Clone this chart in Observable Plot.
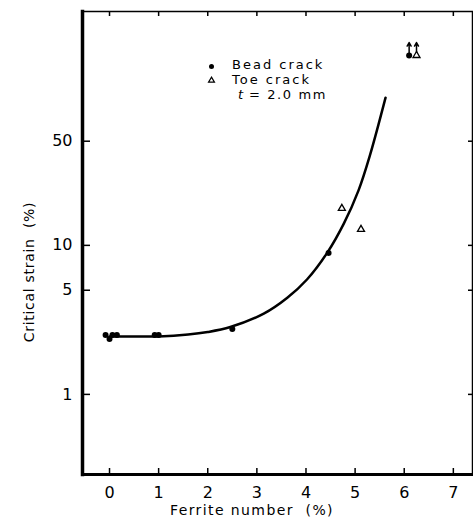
<!DOCTYPE html>
<html>
<head>
<meta charset="utf-8">
<script src="https://cdn.jsdelivr.net/npm/d3@7"></script>
<script src="https://cdn.jsdelivr.net/npm/@observablehq/plot@0.6"></script>
<style>
  html, body { margin: 0; padding: 0; background: #fff; }
  #chart svg { display: block; }
</style>
</head>
<body>
<div id="chart"></div>
<script>
// Data
const beadX = [-0.08, 0.0, 0.06, 0.15, 0.92, 1.0, 2.5, 4.46];
const beadY = [2.5, 2.35, 2.5, 2.5, 2.5, 2.5, 2.75, 8.9];
const toeX = [4.73, 5.12];
const toeY = [17.7, 12.8];
// points off scale (arrows upward)
const offX = [6.1, 6.25];
const offY = [188, 188];
const offKind = ["bead", "toe"];
// fitted curve
const curveX = [0, 1, 1.6, 2.0, 2.46, 3.14, 3.62, 4.02, 4.43, 4.77, 5.07, 5.3, 5.62];
const curveY = [2.45, 2.45, 2.52, 2.62, 2.83, 3.48, 4.45, 5.9, 8.9, 14.0, 23.4, 40, 98];
// ticks
const xTicks = [0, 1, 2, 3, 4, 5, 6, 7];
const yTicks = [1, 5, 10, 50];
const xDomain = [-0.55, 7.39];
const yDomain = [0.29, 371];
// texts
const xLabel = "Ferrite number  (%)";
const yLabel = "Critical strain  (%)";
const legendLabels = ["Bead crack", "Toe crack"];
const legendNote = "= 2.0 mm";

const bead = beadX.map((x, i) => ({x, y: beadY[i]}));
const toe = toeX.map((x, i) => ({x, y: toeY[i]}));
const off = offX.map((x, i) => ({x, y: offY[i], kind: offKind[i]}));
const curve = curveX.map((x, i) => ({x, y: curveY[i]}));

const W = 473, H = 526;
const mt = 11, mb = 52, ml = 82, mr = 1;
const innerH = H - mt - mb;
const innerW = W - ml - mr;
const font = "DejaVu Sans, sans-serif";

const chart = Plot.plot({
  width: W,
  height: H,
  marginTop: mt,
  marginBottom: mb,
  marginLeft: ml,
  marginRight: mr,
  style: {fontFamily: font, background: "#fff", color: "#000"},
  x: {domain: xDomain, axis: null},
  y: {type: "log", domain: yDomain, axis: null},
  marks: [
    // frame
    Plot.frame({stroke: "#000", strokeWidth: 1.5}),
    Plot.frame({anchor: "left", stroke: "#000", strokeWidth: 3.5}),
    Plot.frame({anchor: "bottom", stroke: "#000", strokeWidth: 3}),
    // inward ticks
    Plot.tickX(xTicks, {x: d => d, insetTop: innerH - 6, stroke: "#000", strokeWidth: 1.5}),
    Plot.tickX(xTicks, {x: d => d, insetBottom: innerH - 5, stroke: "#000", strokeWidth: 1.5}),
    Plot.tickY(yTicks, {y: d => d, insetRight: innerW - 8, stroke: "#000", strokeWidth: 1.5}),
    Plot.tickY(yTicks, {y: d => d, insetLeft: innerW - 4, stroke: "#000", strokeWidth: 1.5}),
    // tick labels
    Plot.text(xTicks, {x: d => d, y: yDomain[0], text: d => String(d), dy: 18, fontSize: 16, fill: "#000"}),
    Plot.text(yTicks, {x: xDomain[0], y: d => d, text: d => String(d), dx: -10, textAnchor: "end", fontSize: 16, fill: "#000"}),
    // curve
    Plot.line(curve, {x: "x", y: "y", curve: "catmull-rom", stroke: "#000", strokeWidth: 2.5}),
    // data points
    Plot.dot(bead, {x: "x", y: "y", r: 3, fill: "#000"}),
    Plot.dot(toe, {x: "x", y: "y", symbol: "triangle", r: 2.6, stroke: "#000", strokeWidth: 1.3, fill: "#fff"}),
    Plot.arrow(off, {x: "x", y1: "y", y2: d => d.y * 1.22, stroke: "#000", strokeWidth: 1.5, headLength: 4, insetStart: 2}),
    Plot.dot(off.filter(d => d.kind === "bead"), {x: "x", y: "y", r: 3, fill: "#000"}),
    Plot.dot(off.filter(d => d.kind === "toe"), {x: "x", y: "y", symbol: "triangle", r: 2.6, stroke: "#000", strokeWidth: 1.3, fill: "#fff"}),
    // legend symbols
    Plot.dot([0], {frameAnchor: "top-left", dx: 211 - ml, dy: 66 - mt, r: 2.5, fill: "#000"}),
    Plot.dot([0], {frameAnchor: "top-left", dx: 211 - ml, dy: 80 - mt, symbol: "triangle", r: 2.2, stroke: "#000", strokeWidth: 1.2, fill: "#fff"})
  ]
});

// text labels (legend and axis titles)
const svg = d3.select(chart);
const addText = (txt, x, y, opts = {}) => {
  const t = svg.append("text")
    .attr("x", x).attr("y", y)
    .attr("dominant-baseline", "middle")
    .attr("text-anchor", opts.anchor || "start")
    .attr("font-family", font)
    .attr("font-size", opts.size || 14)
    .attr("letter-spacing", opts.ls || 0)
    .attr("fill", "#000")
    .text(txt);
  if (opts.italic) t.attr("font-style", "italic");
  if (opts.rotate) t.attr("transform", `rotate(${opts.rotate},${x},${y})`);
  return t;
};
addText(legendLabels[0], 232, 65, {size: 13, ls: 2});
addText(legendLabels[1], 232, 80, {size: 13, ls: 2});
addText("t", 238, 95, {size: 13, italic: true});
addText(legendNote, 249, 95, {size: 13, ls: 1.6});
addText(xLabel, 252, 511, {anchor: "middle", size: 14, ls: 1.4});
addText(yLabel, 30, 272, {anchor: "middle", size: 14, ls: 0.7, rotate: -90});

document.getElementById("chart").appendChild(chart);
</script>
</body>
</html>
